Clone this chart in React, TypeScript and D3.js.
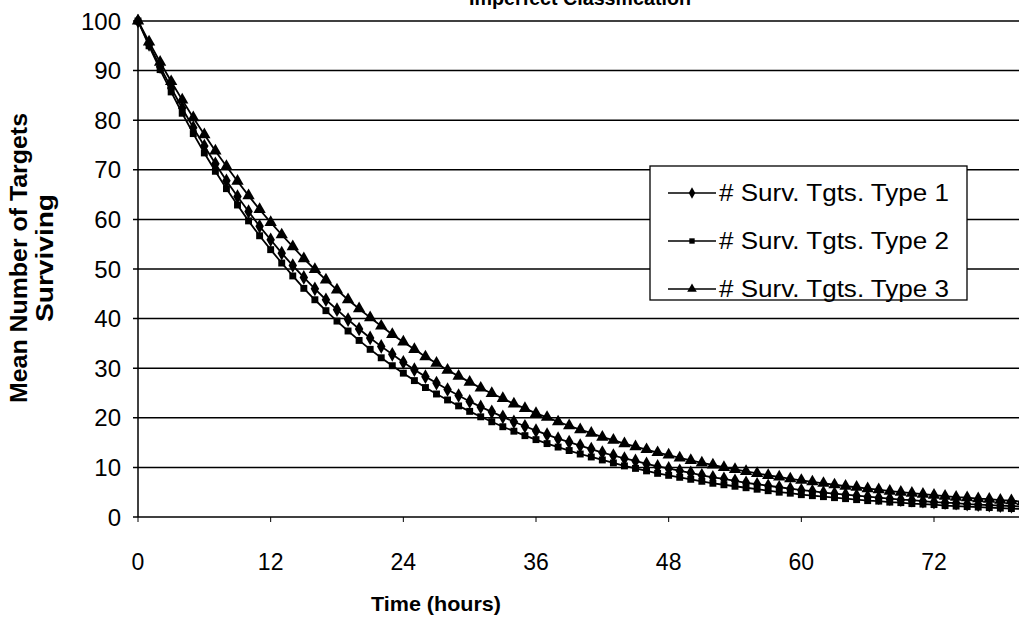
import React from "react";
import * as d3 from "d3";

const hours: number[] = Array.from({ length: 81 }, (_, i) => i);

const type1: number[] = [
  100, 95.3, 90.8, 86.5, 82.4, 78.5, 74.8, 71.2, 67.8, 64.6, 61.6, 58.6, 55.9, 53.2, 50.7, 48.3,
  46.0, 43.8, 41.8, 39.8, 37.9, 36.1, 34.4, 32.8, 31.2, 29.7, 28.3, 27.0, 25.7, 24.5, 23.3, 22.2,
  21.2, 20.2, 19.2, 18.3, 17.4, 16.6, 15.8, 15.1, 14.4, 13.7, 13.0, 12.4, 11.8, 11.3, 10.7, 10.2,
  9.8, 9.3, 8.9, 8.4, 8.0, 7.7, 7.3, 6.9, 6.6, 6.3, 6.0, 5.7, 5.4, 5.2, 4.9, 4.7, 4.5, 4.3,
  4.1, 3.9, 3.7, 3.5, 3.4, 3.2, 3.0, 2.9, 2.8, 2.6, 2.5, 2.4, 2.3, 2.2, 2.1,
];

const type2: number[] = [
  100, 95.0, 90.2, 85.7, 81.4, 77.3, 73.4, 69.7, 66.2, 62.9, 59.7, 56.7, 53.9, 51.2, 48.6, 46.1,
  43.8, 41.6, 39.5, 37.5, 35.6, 33.8, 32.1, 30.5, 29.0, 27.5, 26.1, 24.8, 23.6, 22.4, 21.3, 20.2,
  19.2, 18.2, 17.3, 16.4, 15.6, 14.8, 14.1, 13.4, 12.7, 12.1, 11.5, 10.9, 10.3, 9.8, 9.3, 8.8,
  8.4, 8.0, 7.6, 7.2, 6.8, 6.5, 6.2, 5.9, 5.6, 5.3, 5.0, 4.8, 4.5, 4.3, 4.1, 3.9, 3.7, 3.5,
  3.3, 3.2, 3.0, 2.9, 2.7, 2.6, 2.5, 2.3, 2.2, 2.1, 2.0, 1.9, 1.8, 1.7, 1.6,
];

const type3: number[] = [
  100, 95.8, 91.7, 87.8, 84.1, 80.5, 77.1, 73.8, 70.7, 67.7, 64.8, 62.0, 59.4, 56.9, 54.5, 52.1,
  49.9, 47.8, 45.8, 43.8, 42.0, 40.2, 38.5, 36.8, 35.3, 33.8, 32.3, 31.0, 29.6, 28.4, 27.2, 26.0,
  24.9, 23.9, 22.8, 21.9, 20.9, 20.1, 19.2, 18.4, 17.6, 16.9, 16.1, 15.5, 14.8, 14.2, 13.6, 13.0,
  12.5, 11.9, 11.4, 10.9, 10.5, 10.0, 9.6, 9.2, 8.8, 8.4, 8.1, 7.7, 7.4, 7.1, 6.8, 6.5, 6.2, 6.0,
  5.7, 5.5, 5.2, 5.0, 4.8, 4.6, 4.4, 4.2, 4.0, 3.9, 3.7, 3.6, 3.4, 3.3, 3.1,
];

const seriesNames: string[] = ["# Surv. Tgts. Type 1", "# Surv. Tgts. Type 2", "# Surv. Tgts. Type 3"];
const xTicks: number[] = [0, 12, 24, 36, 48, 60, 72];
const yTicks: number[] = [0, 10, 20, 30, 40, 50, 60, 70, 80, 90, 100];
const titleText = "Imperfect Classification";
const xTitle = "Time (hours)";
const yTitle1 = "Mean Number of Targets";
const yTitle2 = "Surviving";

const W = 1019;
const H = 620;
const FONT = "'Liberation Sans', Arial, Helvetica, sans-serif";

export default function App() {
  const x = d3.scaleLinear().domain([0, 72]).range([138, 934]);
  const y = d3.scaleLinear().domain([0, 100]).range([517, 21]);
  const plotLeft = x(0);
  const plotRight = W;

  const symbols = [d3.symbolDiamond, d3.symbolSquare, d3.symbolTriangle];
  const sizes = [62, 48, 66];
  const data = [type1, type2, type3];

  const line = d3
    .line<number>()
    .x((_, i) => x(hours[i]))
    .y((d) => y(d));

  return (
    <svg
      width={W}
      height={H}
      style={{ position: "absolute", left: 0, top: 0, background: "#fff" }}
      fontFamily={FONT}
    >
      <rect x={0} y={0} width={W} height={H} fill="#fff" />
      <defs>
        <clipPath id="plotclip">
          <rect x={plotLeft - 8} y={0} width={plotRight - plotLeft + 8} height={H} />
        </clipPath>
      </defs>

      {/* title (cut at top, as in the reference) */}
      <text x={580} y={5} textAnchor="middle" fontWeight="bold" fontSize={20} textLength={222} lengthAdjust="spacingAndGlyphs">
        {titleText}
      </text>

      {/* gridlines */}
      {yTicks.map((t) => (
        <g key={"g" + t}>
          <line x1={plotLeft - 5} x2={plotRight} y1={y(t)} y2={y(t)} stroke="#000" strokeWidth={1.5} />
          <text x={121} y={y(t)} dy="0.36em" textAnchor="end" fontSize={24}>
            {t}
          </text>
        </g>
      ))}

      {/* y axis */}
      <line x1={plotLeft} x2={plotLeft} y1={y(100)} y2={y(0)} stroke="#000" strokeWidth={1.5} />

      {/* x ticks */}
      {xTicks.map((t) => (
        <g key={"x" + t}>
          <line x1={x(t)} x2={x(t)} y1={y(0)} y2={y(0) + 5} stroke="#000" strokeWidth={1} />
          <text x={x(t)} y={570} textAnchor="middle" fontSize={23}>
            {t}
          </text>
        </g>
      ))}

      {/* axis titles */}
      <text x={436} y={611} textAnchor="middle" fontWeight="bold" fontSize={21} textLength={130} lengthAdjust="spacingAndGlyphs">
        {xTitle}
      </text>
      <text
        transform={`translate(27,258) rotate(-90)`}
        textAnchor="middle"
        fontWeight="bold"
        fontSize={24}
        textLength={290}
        lengthAdjust="spacingAndGlyphs"
      >
        {yTitle1}
      </text>
      <text
        transform={`translate(53,258) rotate(-90)`}
        textAnchor="middle"
        fontWeight="bold"
        fontSize={24}
        textLength={128}
        lengthAdjust="spacingAndGlyphs"
      >
        {yTitle2}
      </text>

      {/* series */}
      <g clipPath="url(#plotclip)">
        {data.map((s, si) => (
          <g key={"s" + si}>
            <path d={line(s) || ""} fill="none" stroke="#000" strokeWidth={1.8} />
            {s.map((v, i) => (
              <path
                key={i}
                transform={`translate(${x(hours[i])},${y(v)})`}
                d={d3.symbol(symbols[si], sizes[si])() || ""}
                fill="#000"
              />
            ))}
          </g>
        ))}
      </g>

      {/* legend */}
      <rect x={650} y={166} width={317} height={134} fill="#fff" stroke="#000" strokeWidth={1.3} />
      {seriesNames.map((name, i) => {
        const ly = [193, 241, 289][i];
        return (
          <g key={"l" + i}>
            <line x1={668} x2={716} y1={ly} y2={ly} stroke="#000" strokeWidth={1.6} />
            <path
              transform={`translate(692,${ly})`}
              d={d3.symbol(symbols[i], sizes[i] * 0.6)() || ""}
              fill="#000"
            />
            <text x={719} y={ly + 8} fontSize={23} textLength={230} lengthAdjust="spacingAndGlyphs">
              {name}
            </text>
          </g>
        );
      })}
    </svg>
  );
}
